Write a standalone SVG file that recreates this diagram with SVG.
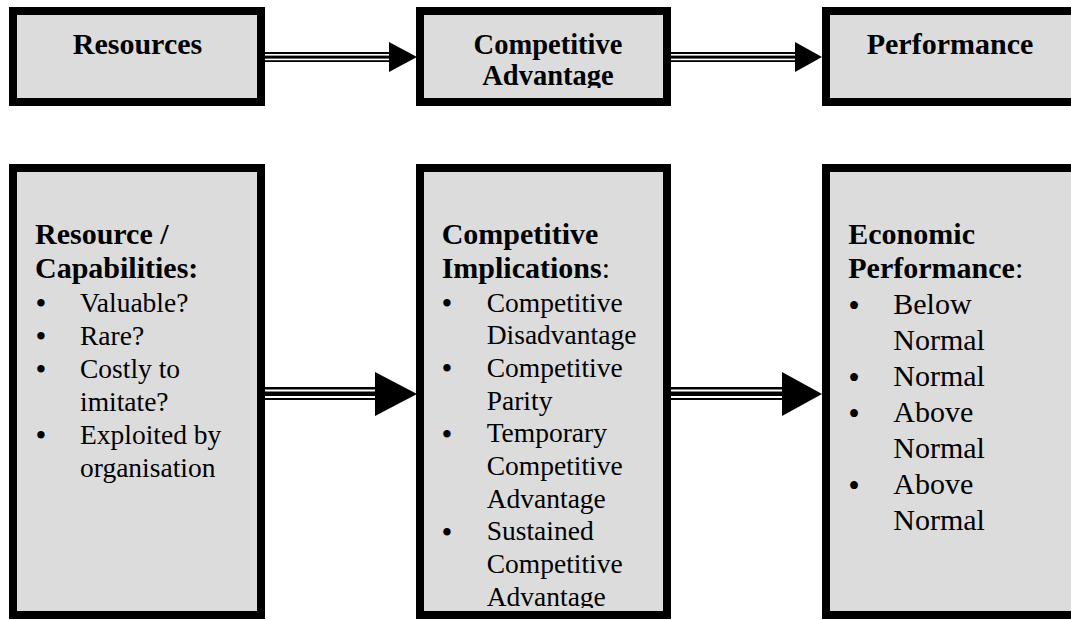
<svg xmlns="http://www.w3.org/2000/svg" width="1071" height="620" viewBox="0 0 1071 620">
<style>
.box{fill:#dcdcdc;stroke:#000;stroke-width:8}
.hb{font-family:'Liberation Serif',Times,'Times New Roman',serif;font-weight:bold;fill:#000}
.t{font-family:'Liberation Serif',Times,'Times New Roman',serif;fill:#000}
.bu{font-family:'Liberation Serif',Times,'Times New Roman',serif;fill:#000;font-size:31px}
.blk{fill:#000}
.wht{fill:#fff}
</style>
<defs>
<clipPath id="clipTop2"><rect x="420" y="11" width="247" height="77"/></clipPath>
<clipPath id="clipBot2"><rect x="420" y="168" width="247" height="440"/></clipPath>
</defs>
<rect width="1071" height="620" fill="#fff"/>

<g id="connectors">
  <g id="arrow-top-1">
    <rect class="blk" x="265" y="52" width="126" height="10"/>
    <rect class="wht" x="265" y="54" width="126" height="1.6"/>
    <rect class="wht" x="265" y="58.6" width="126" height="1.6"/>
    <polygon class="blk" points="389,42 417,57 389,72"/>
  </g>
  <g id="arrow-top-2">
    <rect class="blk" x="671" y="52" width="126" height="10"/>
    <rect class="wht" x="671" y="54" width="126" height="1.6"/>
    <rect class="wht" x="671" y="58.6" width="126" height="1.6"/>
    <polygon class="blk" points="795,42 822,57 795,72"/>
  </g>
  <g id="arrow-bot-1">
    <rect class="blk" x="265" y="387" width="112" height="13"/>
    <rect class="wht" x="265" y="389.5" width="112" height="2"/>
    <rect class="wht" x="265" y="396" width="112" height="2"/>
    <polygon class="blk" points="375,372 417,394 375,416"/>
  </g>
  <g id="arrow-bot-2">
    <rect class="blk" x="671" y="387" width="113" height="13"/>
    <rect class="wht" x="671" y="389.5" width="113" height="2"/>
    <rect class="wht" x="671" y="396" width="113" height="2"/>
    <polygon class="blk" points="782,372 822,394 782,416"/>
  </g>
</g>

<g id="node-resources">
  <rect class="box" x="13" y="11" width="248" height="91"/>
  <text class="hb" x="137.5" y="53.5" font-size="30" text-anchor="middle">Resources</text>
</g>

<g id="node-competitive-advantage">
  <rect class="box" x="420" y="11" width="247" height="91"/>
  <g clip-path="url(#clipTop2)">
    <text class="hb" x="548" y="54" font-size="28.5" text-anchor="middle">Competitive</text>
    <text class="hb" x="548" y="84.5" font-size="28.5" text-anchor="middle">Advantage</text>
  </g>
</g>

<g id="node-performance">
  <rect class="box" x="826" y="11" width="260" height="91"/>
  <text class="hb" x="950" y="53.5" font-size="30" text-anchor="middle">Performance</text>
</g>

<g id="node-resource-capabilities">
  <rect class="box" x="13" y="168" width="248" height="447"/>
  <text class="hb" x="35" y="244" font-size="30">Resource /</text>
  <text class="hb" x="35" y="278" font-size="30">Capabilities:</text>
  <g class="bu" text-anchor="middle">
    <text x="41" y="314">•</text>
    <text x="41" y="347">•</text>
    <text x="41" y="380">•</text>
    <text x="41" y="446">•</text>
  </g>
  <g class="t" font-size="27.5">
    <text x="80" y="311.5">Valuable?</text>
    <text x="80" y="344.5">Rare?</text>
    <text x="80" y="377.5">Costly to</text>
    <text x="80" y="410.5">imitate?</text>
    <text x="80" y="443.5">Exploited by</text>
    <text x="80" y="476.5">organisation</text>
  </g>
</g>

<g id="node-competitive-implications">
  <rect class="box" x="420" y="168" width="247" height="447"/>
  <g clip-path="url(#clipBot2)">
    <text class="hb" x="441.7" y="243.5" font-size="30">Competitive</text>
    <text class="hb" x="441.7" y="278" font-size="30">Implications<tspan font-weight="normal">:</tspan></text>
    <g class="bu" text-anchor="middle">
      <text x="447" y="314">•</text>
      <text x="447" y="379.4">•</text>
      <text x="447" y="444.8">•</text>
      <text x="447" y="542.9">•</text>
    </g>
    <g class="t" font-size="27.5">
      <text x="486.7" y="311.5">Competitive</text>
      <text x="486.7" y="344.2">Disadvantage</text>
      <text x="486.7" y="376.9">Competitive</text>
      <text x="486.7" y="409.6">Parity</text>
      <text x="486.7" y="442.3">Temporary</text>
      <text x="486.7" y="475">Competitive</text>
      <text x="486.7" y="507.7">Advantage</text>
      <text x="486.7" y="540.4">Sustained</text>
      <text x="486.7" y="573.1">Competitive</text>
      <text x="486.7" y="605.8">Advantage</text>
    </g>
  </g>
</g>

<g id="node-economic-performance">
  <rect class="box" x="826" y="168" width="260" height="447"/>
  <text class="hb" x="848.3" y="243.5" font-size="30">Economic</text>
  <text class="hb" x="848.3" y="278" font-size="30">Performance<tspan font-weight="normal">:</tspan></text>
  <g class="bu" text-anchor="middle" style="font-size:33px">
    <text x="854" y="316.5">•</text>
    <text x="854" y="388.5">•</text>
    <text x="854" y="424.5">•</text>
    <text x="854" y="496.5">•</text>
  </g>
  <g class="t" font-size="30">
    <text x="893.3" y="314">Below</text>
    <text x="893.3" y="350">Normal</text>
    <text x="893.3" y="386">Normal</text>
    <text x="893.3" y="422">Above</text>
    <text x="893.3" y="458">Normal</text>
    <text x="893.3" y="494">Above</text>
    <text x="893.3" y="530">Normal</text>
  </g>
</g>
</svg>
